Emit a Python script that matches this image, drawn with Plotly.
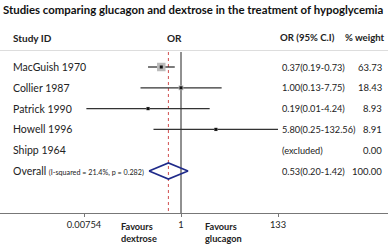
import plotly.graph_objects as go

studies = ["MacGuish 1970", "Collier 1987", "Patrick 1990", "Howell 1996", "Shipp 1964"]
or_est = [0.37, 1.00, 0.19, 5.80, None]
ci_low = [0.19, 0.13, 0.0085, 0.25, None]
ci_high = [0.73, 7.75, 4.24, 132.56, None]
ci_text = ["0.37(0.19-0.73)", "1.00(0.13-7.75)", "0.19(0.01-4.24)", "5.80(0.25-132.56)", "(excluded)"]
weights = [63.73, 18.43, 8.93, 8.91, 0.00]
overall_label = "Overall"
overall_note = "(I-squared = 21.4%, p = 0.282)"
overall_est = 0.53
overall_low = 0.20
overall_high = 1.42
overall_text = "0.53(0.20-1.42)"
overall_weight = 100.00
tick_vals = [0.00754, 1, 133]
tick_text = ["0.00754", "1", "133"]
title = "Studies comparing glucagon and dextrose in the treatment of hypoglycemia"

W, H = 388, 244
FONT = "Lato"
row_px0, row_step = 67.0, 20.8
axis_px = 213.0
ppd = 45.7  # pixels per decade
one_px = 181.0

def ypx(p):
    return (p - row_px0) / row_step

def px(x):
    return x / W

fig = go.Figure()

for i, (e, lo, hi, w) in enumerate(zip(or_est, ci_low, ci_high, weights)):
    if e is None:
        continue
    fig.add_trace(go.Scatter(x=[lo, hi], y=[i, i], mode="lines",
                             line=dict(color="#333333", width=1.3),
                             hoverinfo="skip", showlegend=False, cliponaxis=False))
    fig.add_trace(go.Scatter(x=[e], y=[i], mode="markers",
                             marker=dict(symbol="square", size=w ** 0.5 + 0.5, color="#BBBBBB",
                                         line=dict(width=0)),
                             hoverinfo="skip", showlegend=False))
    fig.add_trace(go.Scatter(x=[e], y=[i], mode="markers",
                             marker=dict(symbol="square", size=3, color="#111111", line=dict(width=0)),
                             hoverinfo="skip", showlegend=False))

n = len(studies)
dh = 0.39
fig.add_trace(go.Scatter(x=[overall_low, overall_est, overall_high, overall_est, overall_low],
                         y=[n, n - dh, n, n + dh, n], mode="lines",
                         line=dict(color="#1F2A8A", width=1.6),
                         hoverinfo="skip", showlegend=False))

y_top = ypx(0)
y_bot = ypx(axis_px)
x_lo = -one_px / ppd
x_hi = (W - one_px) / ppd

shapes = [
    dict(type="line", xref="paper", yref="y", x0=0, x1=1, y0=ypx(50.5), y1=ypx(50.5),
         line=dict(color="#DDDDDD", width=1)),
    dict(type="line", xref="x", yref="y", x0=1, x1=1, y0=ypx(52), y1=y_bot,
         line=dict(color="#222222", width=1), layer="below"),
    dict(type="line", xref="x", yref="y", x0=overall_est, x1=overall_est, y0=ypx(52), y1=y_bot,
         line=dict(color="#D05050", width=1, dash="dot"), layer="below"),
]

ann = []
def A(text, x, y, xanchor="left", size=10.5, bold=False, color="#222222", yref="y"):
    ann.append(dict(text=f"<b>{text}</b>" if bold else text, x=x, y=y, xref="paper", yref=yref,
                    xanchor=xanchor, yanchor="middle", showarrow=False, align="left",
                    font=dict(family=FONT, size=size, color=color)))

A(title, px(0.5), ypx(9.5), size=11.4, bold=True, color="#111111")
A("Study ID", px(11), ypx(37.5), size=10, bold=True)
A("OR", px(174.5), ypx(37.5), xanchor="center", size=10, bold=True)
A("OR (95% C.I)", px(278), ypx(37.5), size=9.6, bold=True)
A("% weight", px(387), ypx(37.5), xanchor="right", size=9.6, bold=True)

for i, s in enumerate(studies):
    A(s, px(11), i, size=10.5)
    A(ci_text[i], px(279.5), i, size=9.2)
    A(f"{weights[i]:.2f}", px(384), i, xanchor="right", size=9.5)

A(f"{overall_label} <span style='font-size:7.2px'>{overall_note}</span>", px(11), n, size=10.5)
A(overall_text, px(279.5), n, size=9.2)
A(f"{overall_weight:.2f}", px(384), n, xanchor="right", size=9.5)

fav_y = (axis_px - 232.5) / axis_px
A("Favours<br>dextrose", px(119), fav_y, size=9.2, bold=True, yref="paper")
A("Favours<br>glucagon", px(203), fav_y, size=9.2, bold=True, yref="paper")

fig.update_layout(
    width=W, height=H,
    margin=dict(l=0, r=0, t=0, b=H - axis_px),
    paper_bgcolor="white", plot_bgcolor="white",
    showlegend=False,
    shapes=shapes, annotations=ann,
    xaxis=dict(type="log", range=[x_lo, x_hi], tickvals=tick_vals, ticktext=tick_text,
               showgrid=False, zeroline=False, showline=True, linecolor="#777777", linewidth=1,
               ticks="outside", ticklen=3, tickcolor="#777777", automargin=False,
               tickfont=dict(family=FONT, size=9.3, color="#222222")),
    yaxis=dict(range=[y_bot, y_top], visible=False, showgrid=False, zeroline=False, automargin=False),
)

fig.write_html("out.html", config={"displayModeBar": False},
               post_script="document.body.style.margin='0';document.body.style.overflow='hidden';")
